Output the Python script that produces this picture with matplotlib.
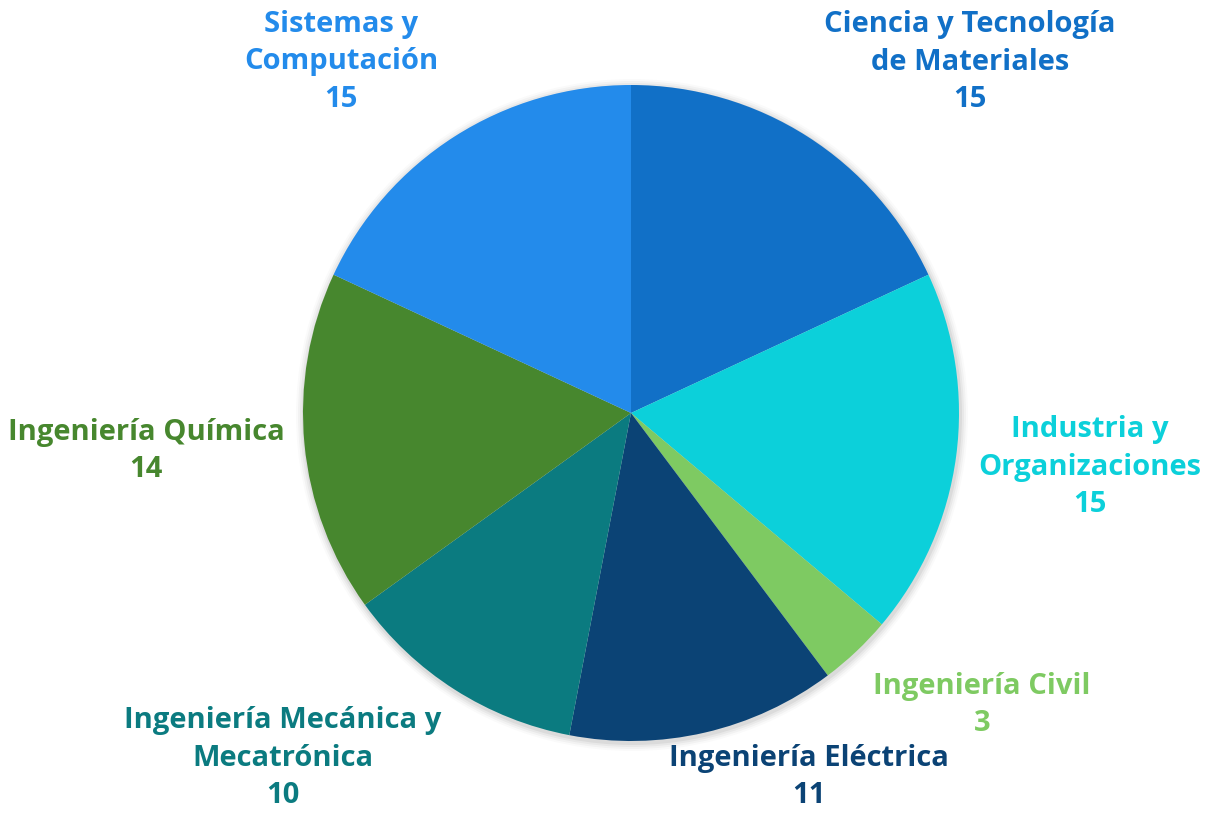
import matplotlib.pyplot as plt
from matplotlib.patches import Circle

# datos del gráfico
carreras = ["Ciencia y Tecnología\nde Materiales", "Industria y\nOrganizaciones",
            "Ingeniería Civil", "Ingeniería Eléctrica",
            "Ingeniería Mecánica y\nMecatrónica", "Ingeniería Química",
            "Sistemas y\nComputación"]
valores = [15, 15, 3, 11, 10, 14, 15]
colores = ["#1170C7", "#0CD0DA", "#7ECA62", "#0B4375", "#0B7B80", "#47872E", "#238BEB"]

# posiciones de las etiquetas (pixeles, origen arriba a la izquierda)
pos_etiquetas = [(970, 62), (1090, 467), (982, 705), (809, 777),
                 (283, 758), (146, 451), (341, 62)]

W, H = 1207, 813
fig = plt.figure(figsize=(W / 100, H / 100), dpi=100)
ax = fig.add_axes([0, 0, 1, 1])

cx, cy, r = 631, H - 413, 328

# sombra suave
for i, a in enumerate([0.05, 0.04, 0.03, 0.02]):
    ax.add_patch(Circle((cx + 1, cy - 2), r + 2 + 2 * i, color="#000000", alpha=a, lw=0, zorder=1))

ax.pie(valores, colors=colores, startangle=90, counterclock=False,
       center=(cx, cy), radius=r, frame=True,
       wedgeprops=dict(linewidth=0, zorder=2))
ax.set_xlim(0, W)
ax.set_ylim(0, H)
ax.set_aspect("equal")
ax.axis("off")

for nombre, v, c, (x, y) in zip(carreras, valores, colores, pos_etiquetas):
    ax.text(x, H - y, nombre + "\n" + str(v), color=c, ha="center", va="center",
            fontsize=21, fontweight="bold", family="Open Sans", linespacing=1.38, zorder=5)

plt.savefig("out.png", dpi=100, facecolor="white")
